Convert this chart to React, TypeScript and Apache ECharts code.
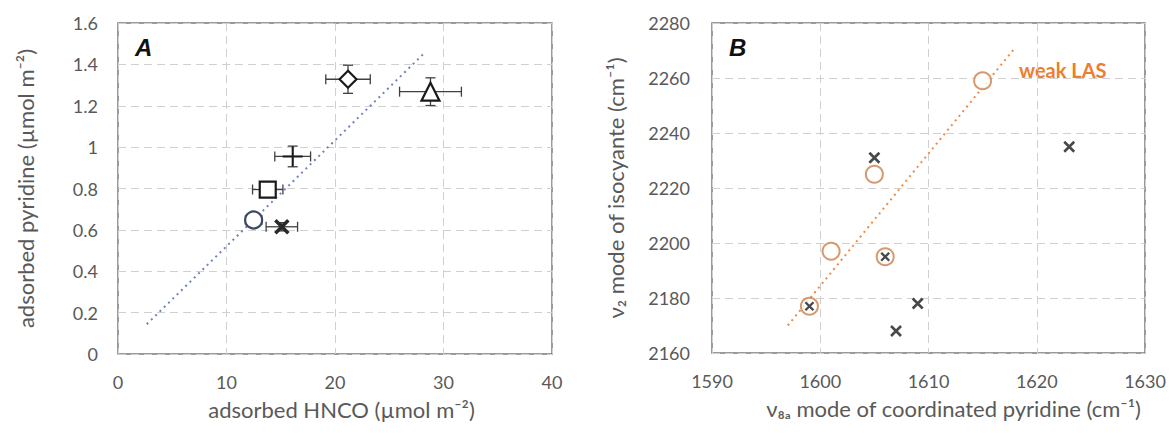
import React, { useEffect, useRef } from "react";
import * as echarts from "echarts";

// Panel A: adsorbed HNCO vs adsorbed pyridine, [x, y, xErr, yErr]
const diamondA = [[21.2, 1.328, 2.05, 0.068]];
const triangleA = [[28.8, 1.268, 2.85, 0.067]];
const plusA = [[16.1, 0.955, 1.65, 0.05]];
const squareA = [[13.8, 0.795, 1.4, 0.03]];
const circleA = [[12.5, 0.648, 0.75, 0.03]];
const crossA = [[15.1, 0.615, 1.45, 0.02]];
const trendA = [[2.65, 0.144], [28.3, 1.458]];

// Panel B: v8a of pyridine vs v2 of isocyanate
const orangeCirclesB = [[1615, 2259], [1605, 2225], [1601, 2197], [1599, 2177], [1606, 2195]];
const crossesB = [[1623, 2235], [1605, 2231], [1609, 2178], [1607, 2168]];
const circledCrossesB = [[1599, 2177], [1606, 2195]];
const trendB = [[1597, 2170], [1618, 2271]];

const xTicksA = { min: 0, max: 40, interval: 10 };
const yTicksA = { min: 0, max: 1.6, interval: 0.2 };
const xTicksB = { min: 1590, max: 1630, interval: 10 };
const yTicksB = { min: 2160, max: 2280, interval: 20 };

const FONT = "Lato";
const LABEL = "#595959";
const GRID = "#D0D0D0";
const ORANGE = "#ED7D31";

const plusPath = "path://M10,0 L10,20 M0,10 L20,10";
const xPath = "path://M0,0 L20,20 M20,0 L0,20";

export default function App() {
  const ref = useRef<HTMLDivElement>(null);
  useEffect(() => {
    document.body.style.margin = "0";
    const chart = echarts.init(ref.current!, null, { renderer: "svg" });

    const axisCommon = {
      axisLine: { show: false },
      axisTick: { show: false },
      splitLine: { show: true, lineStyle: { color: GRID, type: [8, 5], width: 1 } },
      axisLabel: { color: LABEL, fontFamily: FONT, fontSize: 18, formatter: (v: number) => String(+v.toFixed(4)) },
      nameTextStyle: { color: LABEL, fontFamily: FONT, fontSize: 22 },
    };

    const errRender = (params: any, api: any) => {
      const x = api.value(0), y = api.value(1), ex = api.value(2), ey = api.value(3);
      const l = api.coord([x - ex, y]);
      const r = api.coord([x + ex, y]);
      const t = api.coord([x, y + ey]);
      const b = api.coord([x, y - ey]);
      const cap = 5;
      const st = { stroke: "#404040", lineWidth: 1.3 };
      return {
        type: "group",
        children: [
          { type: "line", shape: { x1: l[0], y1: l[1], x2: r[0], y2: r[1] }, style: st },
          { type: "line", shape: { x1: l[0], y1: l[1] - cap, x2: l[0], y2: l[1] + cap }, style: st },
          { type: "line", shape: { x1: r[0], y1: r[1] - cap, x2: r[0], y2: r[1] + cap }, style: st },
          { type: "line", shape: { x1: t[0], y1: t[1], x2: b[0], y2: b[1] }, style: st },
          { type: "line", shape: { x1: t[0] - cap, y1: t[1], x2: t[0] + cap, y2: t[1] }, style: st },
          { type: "line", shape: { x1: b[0] - cap, y1: b[1], x2: b[0] + cap, y2: b[1] }, style: st },
        ],
      };
    };

    const allA = [...diamondA, ...triangleA, ...plusA, ...squareA, ...circleA, ...crossA];

    const markerA = (data: number[][], symbol: string, size: number, color = "#1a1a1a", fill = "#ffffff", bw = 2.2) => ({
      type: "scatter",
      xAxisIndex: 0,
      yAxisIndex: 0,
      data: data.map((d) => [d[0], d[1]]),
      symbol,
      symbolSize: size,
      z: 5,
      itemStyle: { color: fill, borderColor: color, borderWidth: bw, opacity: 1 },
    });

    chart.setOption({
      animation: false,
      backgroundColor: "#ffffff",
      grid: [
        { left: 118, top: 23, width: 434, height: 331, show: true, borderColor: "#7a7a7a", borderWidth: 1.5, backgroundColor: "transparent" },
        { left: 712, top: 23, width: 433, height: 330, show: true, borderColor: "#7a7a7a", borderWidth: 1.5, backgroundColor: "transparent" },
      ],
      xAxis: [
        {
          ...axisCommon, gridIndex: 0, type: "value", ...xTicksA,
          axisLabel: { ...axisCommon.axisLabel, margin: 19 },
          name: "adsorbed HNCO (µmol m⁻²)", nameLocation: "middle", nameGap: 44,
          nameTextStyle: { ...axisCommon.nameTextStyle, padding: [0, 0, 0, 13] },
        },
        {
          ...axisCommon, gridIndex: 1, type: "value", ...xTicksB,
          axisLabel: { ...axisCommon.axisLabel, margin: 19 },
          name: "ν₈ₐ mode of coordinated pyridine (cm⁻¹)", nameLocation: "middle", nameGap: 44,
          nameTextStyle: { ...axisCommon.nameTextStyle, padding: [0, 0, 0, 50] },
        },
      ],
      yAxis: [
        {
          ...axisCommon, gridIndex: 0, type: "value", ...yTicksA,
          axisLabel: { ...axisCommon.axisLabel, margin: 20 },
          name: "adsorbed pyridine (µmol m⁻²)", nameLocation: "middle", nameGap: 82, nameRotate: 90,
        },
        {
          ...axisCommon, gridIndex: 1, type: "value", ...yTicksB,
          axisLabel: { ...axisCommon.axisLabel, margin: 22 },
          name: "ν₂ mode of isocyante (cm⁻¹)", nameLocation: "middle", nameGap: 86, nameRotate: 90,
        },
      ],
      series: [
        {
          type: "line", xAxisIndex: 0, yAxisIndex: 0, data: trendA, symbol: "none",
          lineStyle: { color: "#6F84B8", width: 2, type: [2, 4] }, z: 2,
        },
        {
          type: "custom", xAxisIndex: 0, yAxisIndex: 0, data: allA, renderItem: errRender, z: 3,
          encode: { x: 0, y: 1 },
        },
        markerA(diamondA, "diamond", 17),
        markerA(triangleA, "triangle", 18),
        markerA(plusA, plusPath, 20, "#1a1a1a", "transparent", 2),
        markerA(squareA, "rect", 16),
        markerA(circleA, "circle", 17, "#3B4766"),
        markerA(crossA, xPath, 13, "#2a2a2a", "transparent", 3.5),
        {
          type: "line", xAxisIndex: 1, yAxisIndex: 1, data: trendB, symbol: "none",
          lineStyle: { color: ORANGE, width: 2, type: [2, 4], opacity: 0.9 }, z: 2,
        },
        {
          type: "scatter", xAxisIndex: 1, yAxisIndex: 1, data: orangeCirclesB, symbol: "circle", symbolSize: 17, z: 4,
          itemStyle: { color: "#ffffff", borderColor: "#D0804A", borderWidth: 2 },
        },
        {
          type: "scatter", xAxisIndex: 1, yAxisIndex: 1, data: crossesB, symbol: xPath, symbolSize: 10, z: 5,
          itemStyle: { color: "transparent", borderColor: "#1a1a1a", borderWidth: 2.6 },
        },
        {
          type: "scatter", xAxisIndex: 1, yAxisIndex: 1, data: circledCrossesB, symbol: xPath, symbolSize: 8, z: 5,
          itemStyle: { color: "transparent", borderColor: "#1a1a1a", borderWidth: 2.4 },
        },
      ],
      graphic: [
        { type: "text", left: 135, top: 35, style: { text: "A", font: "italic bold 24px 'Liberation Sans'", fill: "#111" } },
        { type: "text", left: 729, top: 35, style: { text: "B", font: "italic bold 24px 'Liberation Sans'", fill: "#111" } },
        { type: "text", left: 1019, top: 60, style: { text: "weak LAS", font: "bold 20px Lato", fill: ORANGE } },
      ],
    });
    return () => chart.dispose();
  }, []);
  return <div ref={ref} style={{ width: 1170, height: 433 }} />;
}
